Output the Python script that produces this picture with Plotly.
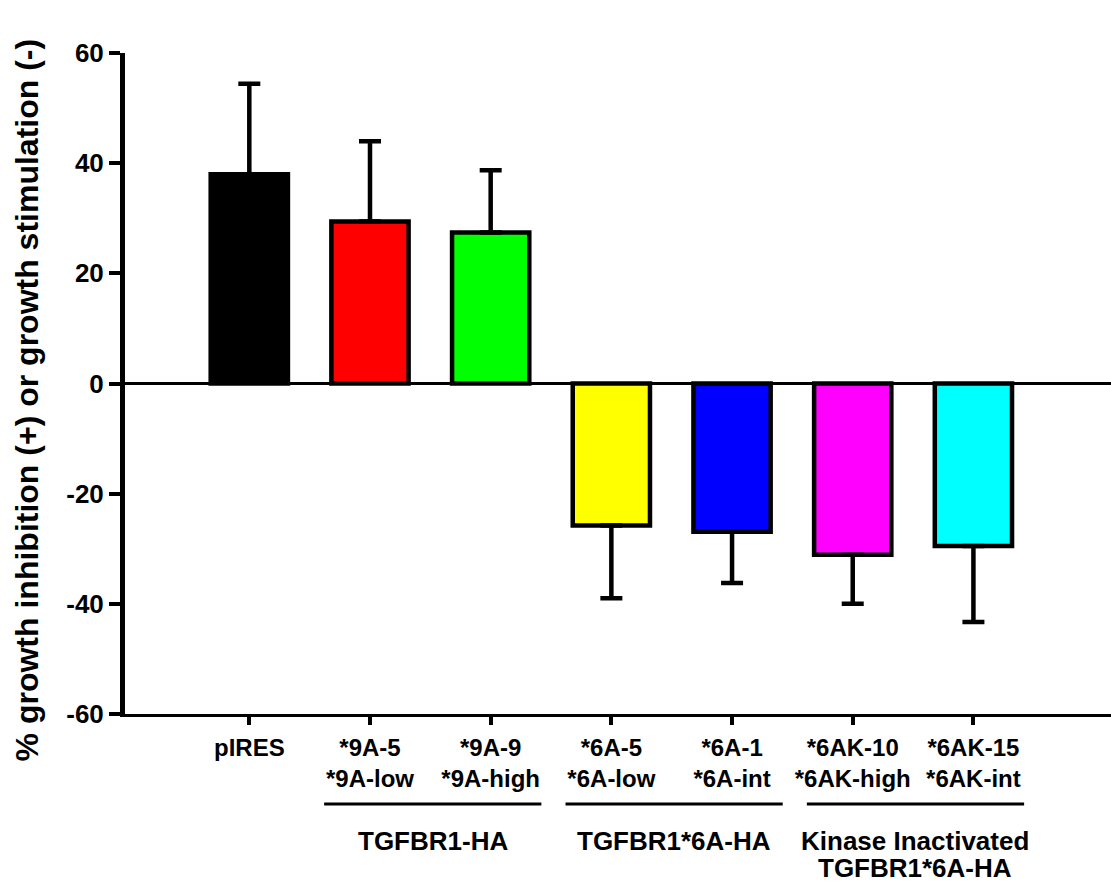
import plotly.graph_objects as go

# Growth response per clone (% inhibition positive, % stimulation negative)
clone_ids = ["pIRES", "*9A-5", "*9A-9", "*6A-5", "*6A-1", "*6AK-10", "*6AK-15"]
clone_levels = ["", "*9A-low", "*9A-high", "*6A-low", "*6A-int", "*6AK-high", "*6AK-int"]
response = [38.0, 29.4, 27.4, -25.8, -26.9, -31.1, -29.5]
error = [16.4, 14.6, 11.3, 13.2, 9.3, 8.9, 13.8]
bar_colors = ["#000000", "#ff0000", "#00ff00", "#ffff00", "#0000ff", "#ff00ff", "#00ffff"]

# Construct groups: (label lines, first clone index, last clone index)
groups = [
    (["TGFBR1-HA"], 1, 2),
    (["TGFBR1*6A-HA"], 3, 4),
    (["Kinase Inactivated", "TGFBR1*6A-HA"], 5, 6),
]

y_ticks = [-60, -40, -20, 0, 20, 40, 60]

FONT = "Arial, Liberation Sans, Helvetica, sans-serif"

tick_text = [f"<b>{a}</b>" if not b else f"<b>{a}<br>{b}</b>"
             for a, b in zip(clone_ids, clone_levels)]
x_pos = list(range(len(clone_ids)))

err_plus = [e if v >= 0 else 0 for v, e in zip(response, error)]
err_minus = [e if v < 0 else 0 for v, e in zip(response, error)]

fig = go.Figure()
fig.add_trace(go.Bar(
    x=x_pos,
    y=response,
    width=0.64,
    marker=dict(color=bar_colors, line=dict(color="black", width=4.5)),
    error_y=dict(type="data", symmetric=False, array=err_plus, arrayminus=err_minus,
                 color="black", thickness=4.5, width=11),
    showlegend=False,
    hoverinfo="y",
))

# zero reference line across the plot
fig.add_shape(type="line", xref="paper", yref="y", x0=0, x1=1, y0=0, y1=0,
              line=dict(color="black", width=3), layer="above")

annotations = []
for lines, i0, i1 in groups:
    fig.add_shape(type="line", xref="x", yref="paper",
                  x0=i0 - 0.38, x1=i1 + 0.42, y0=-0.136, y1=-0.136,
                  line=dict(color="black", width=3))
    for k, line in enumerate(lines):
        if k == 0:
            pos = dict(y=-0.166, yanchor="top")
        else:
            pos = dict(y=-0.2585, yanchor="bottom")
        annotations.append(dict(xref="x", yref="paper", x=(i0 + i1) / 2 + 0.02,
                                xanchor="center", showarrow=False,
                                text=f"<b>{line}</b>",
                                font=dict(family=FONT, size=26, color="black"), **pos))

annotations.append(dict(xref="paper", yref="paper", x=-0.099, y=0.475,
                        xanchor="center", yanchor="middle", textangle=-90, showarrow=False,
                        text="<b>% growth inhibition (+) or growth stimulation (-)</b>",
                        font=dict(family=FONT, size=32, color="black")))

fig.update_layout(
    width=1111, height=887,
    margin=dict(l=125, r=0, t=53, b=173),
    paper_bgcolor="white", plot_bgcolor="white",
    font=dict(family=FONT, color="black"),
    annotations=annotations,
)

fig.update_xaxes(
    range=[-1.03, 7.14],
    tickmode="array", tickvals=x_pos, ticktext=tick_text,
    tickfont=dict(family=FONT, size=24, color="black"),
    ticks="outside", ticklen=8, tickwidth=4, tickcolor="black",
    ticklabelstandoff=2,
    showline=True, linecolor="black", linewidth=3,
    showgrid=False, zeroline=False,
)
fig.update_yaxes(
    range=[-60, 60],
    tickmode="array", tickvals=y_ticks,
    ticktext=[f"<b>{t}</b>" for t in y_ticks],
    tickfont=dict(family=FONT, size=26, color="black"),
    ticks="outside", ticklen=11, tickwidth=4, tickcolor="black",
    showline=True, linecolor="black", linewidth=5,
    showgrid=False, zeroline=False,
)

fig.write_html("out.html")
